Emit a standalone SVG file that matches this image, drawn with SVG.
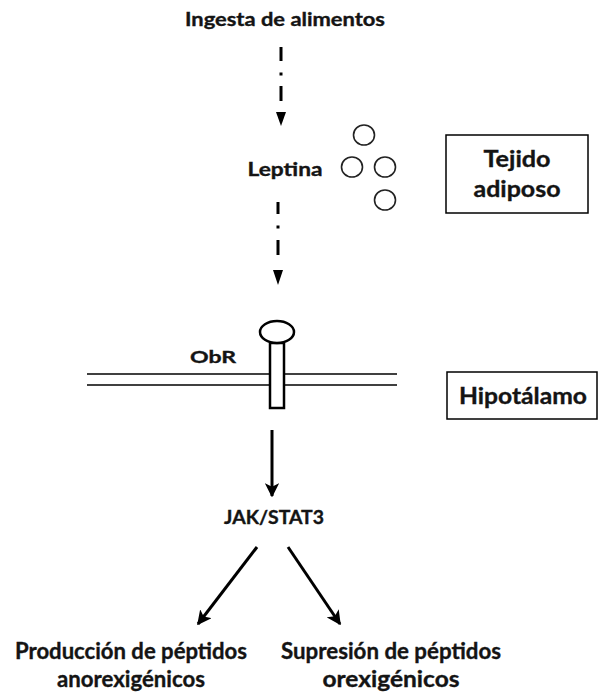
<svg xmlns="http://www.w3.org/2000/svg" width="601" height="693" viewBox="0 0 601 693">
  <style>
    .lbl { font-family: Lato, "Open Sans", "Liberation Sans", sans-serif; font-weight: bold; fill: #141414; stroke: #141414; stroke-width: 0.35; text-anchor: middle; }
    .box { fill: #ffffff; stroke: #000000; stroke-width: 1.5; }
    .ball { fill: #ffffff; stroke: #222222; stroke-width: 1.6; }
    .flow { fill: none; stroke: #000000; stroke-width: 3; }
    .dash { fill: none; stroke: #000000; stroke-width: 3; }
    .tip { fill: #000000; }
    .mem { fill: none; stroke: #000000; stroke-width: 1.5; }
    .recep { fill: #ffffff; stroke: #000000; stroke-width: 2.5; }
  </style>
  <defs>
    <marker id="head" viewBox="0 0 10 10" refX="9" refY="5" markerWidth="4.8" markerHeight="4.8" markerUnits="strokeWidth" orient="auto">
      <path d="M0,0 L10,5 L0,10 L2.5,5 Z" fill="#000000"/>
    </marker>
  </defs>

  <rect width="601" height="693" fill="#ffffff"/>

  <g id="ingesta">
    <text class="lbl" x="285" y="26" font-size="18" textLength="200" lengthAdjust="spacingAndGlyphs">Ingesta de alimentos</text>
  </g>

  <g id="leptina">
    <text class="lbl" x="285" y="176" font-size="18" textLength="75" lengthAdjust="spacingAndGlyphs">Leptina</text>
    <ellipse class="ball" cx="364" cy="135" rx="10.5" ry="10"/>
    <ellipse class="ball" cx="352" cy="167" rx="10.5" ry="10"/>
    <ellipse class="ball" cx="385" cy="167" rx="10.5" ry="10"/>
    <ellipse class="ball" cx="385" cy="200" rx="10.5" ry="10"/>
  </g>

  <g id="tejido-adiposo">
    <rect class="box" x="446" y="135" width="142" height="78"/>
    <text class="lbl" x="517" y="167" font-size="22" textLength="67" lengthAdjust="spacingAndGlyphs">Tejido</text>
    <text class="lbl" x="517" y="197" font-size="22" textLength="87" lengthAdjust="spacingAndGlyphs">adiposo</text>
  </g>

  <g id="membrana">
    <line class="mem" x1="87" y1="374" x2="397" y2="374"/>
    <line class="mem" x1="87" y1="385" x2="397" y2="385"/>
  </g>

  <g id="obr">
    <text class="lbl" x="213" y="363" font-size="17" textLength="46" lengthAdjust="spacingAndGlyphs">ObR</text>
    <rect class="recep" x="270" y="343" width="14" height="65"/>
    <ellipse class="recep" cx="277" cy="332" rx="17" ry="11"/>
  </g>

  <g id="hipotalamo">
    <rect class="box" x="447" y="372" width="150" height="47"/>
    <text class="lbl" x="523" y="404" font-size="22" textLength="128" lengthAdjust="spacingAndGlyphs">Hipotálamo</text>
  </g>

  <g id="jak-stat3">
    <text class="lbl" x="274" y="524" font-size="18" textLength="100" lengthAdjust="spacingAndGlyphs">JAK/STAT3</text>
  </g>

  <g id="anorexigenicos">
    <text class="lbl" x="131" y="659" font-size="22" textLength="232" lengthAdjust="spacingAndGlyphs">Producción de péptidos</text>
    <text class="lbl" x="131" y="687" font-size="22" textLength="148" lengthAdjust="spacingAndGlyphs">anorexigénicos</text>
  </g>

  <g id="orexigenicos">
    <text class="lbl" x="391" y="659" font-size="22" textLength="220" lengthAdjust="spacingAndGlyphs">Supresión de péptidos</text>
    <text class="lbl" x="391" y="687" font-size="22" textLength="137" lengthAdjust="spacingAndGlyphs">orexigénicos</text>
  </g>

  <g id="connectors">
    <!-- dash-dot: food intake to leptin -->
    <path class="dash" d="M281,47 V61 M281,72.5 V75.5 M281,86 V101"/>
    <path class="tip" d="M276,112 L286,112 L281,126 Z"/>
    <!-- dash-dot: leptin to receptor -->
    <path class="dash" d="M278,202 V214 M278,225.5 V228.5 M278,240 V255"/>
    <path class="tip" d="M273,270 L283,270 L278,285 Z"/>
    <!-- receptor signalling -->
    <path class="flow" d="M272,430 L272,496" marker-end="url(#head)"/>
    <path class="flow" d="M257,547 L198,624" marker-end="url(#head)"/>
    <path class="flow" d="M288,547 L340,624" marker-end="url(#head)"/>
  </g>
</svg>
